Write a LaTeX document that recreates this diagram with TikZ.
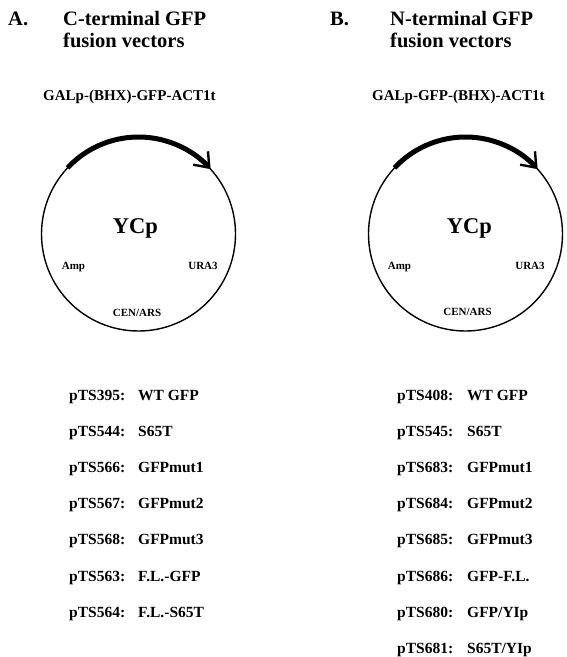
\documentclass[tikz,border=0pt]{standalone}
\usepackage{fontspec}
\setmainfont{Liberation Serif}
\usetikzlibrary{arrows.meta}
\tikzset{
  txt/.style={inner sep=0pt, anchor=base west, font=\bfseries},
  ttl/.style={txt, font=\bfseries\fontsize{20.5}{24}\selectfont},
  cons/.style={txt, font=\bfseries\fontsize{15}{18}\selectfont},
  lst/.style={txt, font=\bfseries\fontsize{15.5}{18}\selectfont},
  plasmid/.style={circle, draw, line width=1.4pt, minimum size=194pt, inner sep=0pt, outer sep=0pt},
  ycp/.style={inner sep=0pt, anchor=base, font=\bfseries\fontsize{22.5}{26}\selectfont},
  genelbl/.style={inner sep=0pt, anchor=base, font=\bfseries\fontsize{11}{13}\selectfont},
  gene/.style={line width=5pt, -{Straight Barb[length=13pt,width=20pt,line width=2.4pt]}}
}
\begin{document}
\begin{tikzpicture}[x=1pt,y=-1pt]
\useasboundingbox (0,0) rectangle (567,657);
% Titles
\node[ttl] (tA) at (8,25) {A.};
\node[ttl] (tA1) at (63,25) {C-terminal GFP};
\node[ttl] (tA2) at (63,47) {fusion vectors};
\node[ttl] (tB) at (330,25) {B.};
\node[ttl] (tB1) at (390,25) {N-terminal GFP};
\node[ttl] (tB2) at (390,47) {fusion vectors};
% Constructs
\node[cons] (cA) at (43,100) {GALp-(BHX)-GFP-ACT1t};
\node[cons] (cB) at (372,100) {GALp-GFP-(BHX)-ACT1t};
% Plasmids
\node[plasmid] (pA) at (138.5,234) {};
\node[plasmid] (pB) at (465.5,234) {};
\draw[gene] (pA.137) arc[start angle=-137, end angle=-42, radius=97];
\draw[gene] (pB.137) arc[start angle=-137, end angle=-42, radius=97];
\node[ycp] (yA) at (135.5,233) {YCp};
\node[ycp] (yB) at (469.5,233) {YCp};
\node[genelbl] (ampA) at (73.5,269) {Amp};
\node[genelbl] (uraA) at (203,269) {URA3};
\node[genelbl] (cenA) at (137,316) {CEN/ARS};
\node[genelbl] (ampB) at (399.5,269) {Amp};
\node[genelbl] (uraB) at (530,269) {URA3};
\node[genelbl] (cenB) at (467.5,315) {CEN/ARS};
% Lists
\foreach \i/\p/\v in {0/395/{WT GFP},1/544/{S65T},2/566/{GFPmut1},3/567/{GFPmut2},4/568/{GFPmut3},5/563/{F.L.-GFP},6/564/{F.L.-S65T}}{
  \node[lst] (la\i) at (69,400+36.2*\i) {pTS\p:};
  \node[lst] (va\i) at (138,400+36.2*\i) {\v};
}
\foreach \i/\p/\v in {0/408/{WT GFP},1/545/{S65T},2/683/{GFPmut1},3/684/{GFPmut2},4/685/{GFPmut3},5/686/{GFP-F.L.},6/680/{GFP/YIp},7/681/{S65T/YIp}}{
  \node[lst] (lb\i) at (397,400+36.2*\i) {pTS\p:};
  \node[lst] (vb\i) at (467,400+36.2*\i) {\v};
}
\end{tikzpicture}
\end{document}
